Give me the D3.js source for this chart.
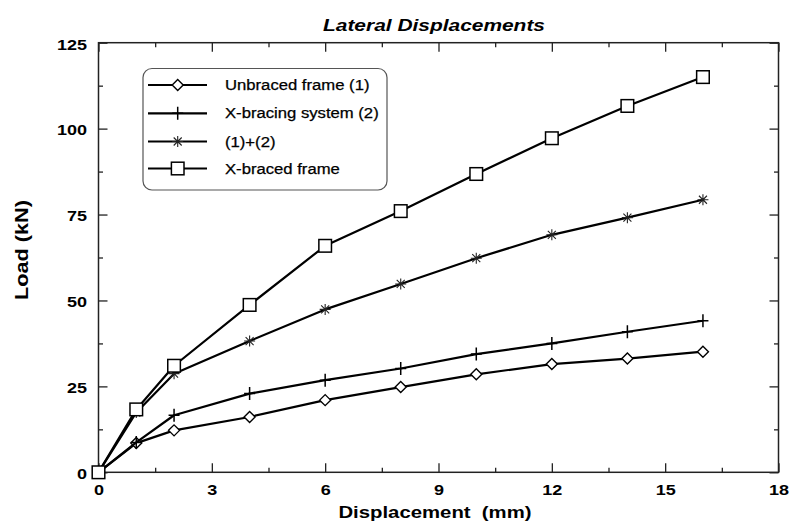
<!DOCTYPE html>
<html>
<head>
<meta charset="utf-8">
<script src="https://cdn.jsdelivr.net/npm/d3@7"></script>
<style>
  html, body { margin: 0; padding: 0; background: #fff; }
  svg { display: block; font-family: "Liberation Sans", Arial, sans-serif; }
</style>
</head>
<body>
<svg id="chart" width="789" height="521"></svg>
<script>
// Load–displacement results (mm, kN)
const displacement = [0, 1, 2, 4, 6, 8, 10, 12, 14, 16];
const unbracedFrame = [0, 8.5, 12.2, 16.1, 21.0, 24.8, 28.5, 31.5, 33.1, 35.1];
const xBracingSystem = [0, 8.7, 16.6, 22.9, 26.8, 30.2, 34.4, 37.5, 40.9, 44.1];
const combined = [0, 17.4, 28.7, 38.2, 47.4, 54.8, 62.3, 69.1, 74.1, 79.3];
const xBracedFrame = [0, 18.3, 31.0, 48.7, 65.9, 76.0, 86.8, 97.2, 106.6, 115.0];

const seriesNames = ["Unbraced frame (1)", "X-bracing system (2)", "(1)+(2)", "X-braced frame"];
const seriesMarkers = ["diamond", "plus", "star", "square"];
const seriesValues = [unbracedFrame, xBracingSystem, combined, xBracedFrame];

const xMajorTicks = [0, 3, 6, 9, 12, 15, 18];
const xMinorTicks = [1.5, 4.5, 7.5, 10.5, 13.5, 16.5];
const yMajorTicks = [0, 25, 50, 75, 100, 125];
const yMinorTicks = [12.5, 37.5, 62.5, 87.5, 112.5];

const titleText = "Lateral Displacements";
const xTitle = "Displacement  (mm)";
const yTitle = "Load (kN)";

const svg = d3.select("#chart");
const plotLeft = 98.5, plotRight = 778.5, plotTop = 42.7, plotBottom = 472.3;

const x = d3.scaleLinear().domain([0, 18]).range([plotLeft, plotRight]);
const y = d3.scaleLinear().domain([0, 125]).range([plotBottom, plotTop]);

// the lettering is set slightly wide
const WIDE = 1.2;
function widen(sel, f) {
  sel.each(function () {
    const w = this.getComputedTextLength();
    this.setAttribute("textLength", w * f);
    this.setAttribute("lengthAdjust", "spacingAndGlyphs");
  });
}

const axisColor = "#222";
const ink = "#000";

function styleAxis(g) {
  g.select(".domain").remove();
  g.selectAll(".tick line").attr("stroke", axisColor).attr("stroke-width", 1.3);
}

// bottom axis with labels
const gxB = svg.append("g").attr("transform", `translate(0,${plotBottom})`)
  .call(d3.axisBottom(x).tickValues(xMajorTicks).tickSize(-9).tickFormat(d3.format("d")));
styleAxis(gxB);
gxB.selectAll("text").attr("y", 22.7).attr("dy", null)
  .attr("fill", ink).attr("font-size", 15).attr("font-weight", "bold");
svg.append("g").attr("transform", `translate(0,${plotBottom})`)
  .call(d3.axisBottom(x).tickValues(xMinorTicks).tickSize(-4.5).tickFormat(""))
  .call(styleAxis);

// top mirror ticks
svg.append("g").attr("transform", `translate(0,${plotTop})`)
  .call(d3.axisTop(x).tickValues(xMajorTicks).tickSize(-9).tickFormat(""))
  .call(styleAxis);
svg.append("g").attr("transform", `translate(0,${plotTop})`)
  .call(d3.axisTop(x).tickValues(xMinorTicks).tickSize(-4.5).tickFormat(""))
  .call(styleAxis);

// left axis with labels
const gyL = svg.append("g").attr("transform", `translate(${plotLeft},0)`)
  .call(d3.axisLeft(y).tickValues(yMajorTicks).tickSize(-9).tickFormat(d3.format("d")));
styleAxis(gyL);
gyL.selectAll("text").attr("x", -11.5).attr("dy", "0.42em")
  .attr("fill", ink).attr("font-size", 15).attr("font-weight", "bold");
svg.append("g").attr("transform", `translate(${plotLeft},0)`)
  .call(d3.axisLeft(y).tickValues(yMinorTicks).tickSize(-4.5).tickFormat(""))
  .call(styleAxis);

// right mirror ticks
svg.append("g").attr("transform", `translate(${plotRight},0)`)
  .call(d3.axisRight(y).tickValues(yMajorTicks).tickSize(-9).tickFormat(""))
  .call(styleAxis);
svg.append("g").attr("transform", `translate(${plotRight},0)`)
  .call(d3.axisRight(y).tickValues(yMinorTicks).tickSize(-4.5).tickFormat(""))
  .call(styleAxis);

widen(gxB.selectAll("text"), WIDE);
widen(gyL.selectAll("text"), WIDE);

// plot frame
svg.append("rect")
  .attr("x", plotLeft).attr("y", plotTop)
  .attr("width", plotRight - plotLeft).attr("height", plotBottom - plotTop)
  .attr("fill", "none").attr("stroke", axisColor).attr("stroke-width", 1.5);

// marker shapes
function drawMarker(g, type) {
  if (type === "diamond") {
    g.append("path").attr("d", "M0,-5.5L5.5,0L0,5.5L-5.5,0Z").attr("fill", "#fff")
      .attr("stroke", ink).attr("stroke-width", 1.4);
  } else if (type === "square") {
    g.append("rect").attr("x", -6.3).attr("y", -6.3).attr("width", 12.6).attr("height", 12.6)
      .attr("fill", "#fff").attr("stroke", ink).attr("stroke-width", 1.5);
  } else if (type === "plus") {
    g.append("path").attr("d", "M0,-6.5V6.5M-5.5,0H5.5")
      .attr("stroke", ink).attr("stroke-width", 1.5).attr("fill", "none");
  } else if (type === "star") {
    g.append("path").attr("d", "M0,-5.5V5.5M-5.5,0H5.5M-4,-4L4,4M-4,4L4,-4")
      .attr("stroke", "#222").attr("stroke-width", 1.1).attr("fill", "none");
  }
}

const line = d3.line().x(d => x(d[0])).y(d => y(d[1]));

seriesValues.forEach((vals, i) => {
  const pts = displacement.map((d, j) => [d, vals[j]]);
  const g = svg.append("g");
  g.append("path").datum(pts).attr("d", line)
    .attr("fill", "none").attr("stroke", ink).attr("stroke-width", 2.2)
    .attr("stroke-linejoin", "round");
  pts.forEach(p => {
    const m = g.append("g").attr("transform", `translate(${x(p[0])},${y(p[1])})`);
    drawMarker(m, seriesMarkers[i]);
  });
});

// legend
const legend = svg.append("g");
legend.append("rect")
  .attr("x", 143).attr("y", 68.5).attr("width", 244).attr("height", 121.5)
  .attr("rx", 9).attr("ry", 9)
  .attr("fill", "#fff").attr("stroke", "#555").attr("stroke-width", 1.2);
const legendRows = [85, 113.3, 141.5, 168.5];
seriesNames.forEach((name, i) => {
  const ly = legendRows[i];
  legend.append("line").attr("x1", 148).attr("x2", 207).attr("y1", ly).attr("y2", ly)
    .attr("stroke", ink).attr("stroke-width", 2.2);
  drawMarker(legend.append("g").attr("transform", `translate(177.7,${ly})`), seriesMarkers[i]);
  const t = legend.append("text").attr("x", 225).attr("y", ly + 5)
    .attr("font-size", 14).attr("fill", ink)
    .attr("stroke", ink).attr("stroke-width", 0.25)
    .text(name);
  widen(t, 1.19);
});

// titles
const title = svg.append("text").attr("x", 434).attr("y", 31)
  .attr("text-anchor", "middle").attr("font-size", 17)
  .attr("font-weight", "bold").attr("font-style", "italic").attr("fill", ink)
  .text(titleText);
widen(title, 1.23);

const xt = svg.append("text").attr("x", 435).attr("y", 518)
  .attr("text-anchor", "middle").attr("font-size", 16)
  .attr("font-weight", "bold").attr("fill", ink)
  .style("white-space", "pre")
  .text(xTitle);
widen(xt, 1.27);

const yt = svg.append("text")
  .attr("transform", "translate(28,250) rotate(-90)")
  .attr("text-anchor", "middle").attr("font-size", 18)
  .attr("font-weight", "bold").attr("fill", ink)
  .text(yTitle);
yt.attr("textLength", 100).attr("lengthAdjust", "spacingAndGlyphs");
</script>
</body>
</html>
